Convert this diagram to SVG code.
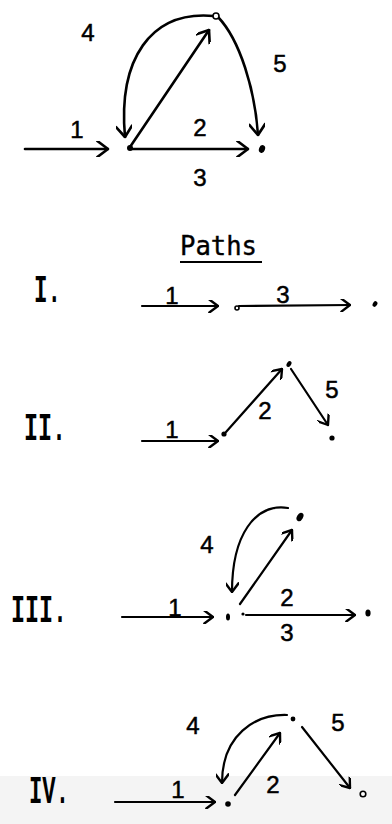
<svg xmlns="http://www.w3.org/2000/svg" width="392" height="824" viewBox="0 0 392 824">
<defs>
<marker id="ah" viewBox="0 0 12 12" refX="11" refY="6" markerWidth="16" markerHeight="16" markerUnits="userSpaceOnUse" orient="auto">
<path d="M3,0 L11,6 L3,12" fill="none" stroke="#000" stroke-width="2" stroke-linecap="round" stroke-linejoin="round"/>
</marker>
<marker id="ahs" viewBox="0 0 12 12" refX="11" refY="6" markerWidth="13" markerHeight="13" markerUnits="userSpaceOnUse" orient="auto">
<path d="M3,0 L11,6 L3,12" fill="none" stroke="#000" stroke-width="2.2" stroke-linecap="round" stroke-linejoin="round"/>
</marker>
</defs>
<style>
.e{fill:none;stroke:#000;stroke-width:2.6;stroke-linecap:round;marker-end:url(#ah)}
.s{fill:none;stroke:#000;stroke-width:2.2;stroke-linecap:round;marker-end:url(#ahs)}
.n{fill:#000}
.o{fill:#fff;stroke:#000;stroke-width:1.6}
.l{font-family:"Liberation Sans",Arial,sans-serif;font-size:24px;fill:#000;stroke:#000;stroke-width:0.5;text-anchor:middle}
.r{font-family:"Liberation Mono","Courier New",monospace;font-size:38px;font-weight:bold;fill:#000}
.t{font-family:"DejaVu Sans Mono","Liberation Mono",monospace;font-size:27px;fill:#000;stroke:#000;stroke-width:0.4}
</style>
<rect x="0" y="0" width="392" height="824" fill="#fff"/>
<rect x="0" y="776" width="392" height="48" fill="#f4f4f4"/>

<g id="connectors">
<path class="e" d="M25,149 L108,149"/>
<path class="e" d="M131,149 L248,149"/>
<path class="e" d="M130,147 L209,30"/>
<path class="e" d="M214,16 C150,10 118,60 125,137"/>
<path class="e" d="M218,17 C240,40 255,90 258,135"/>
<path class="s" d="M142,306 L218,306"/>
<path class="s" d="M239,306 L350,305"/>
<path class="s" d="M142,441 L218,441"/>
<path class="s" d="M226,432 L282,369"/>
<path class="s" d="M291,369 L328,425"/>
<path class="s" d="M288,508 C255,503 232,535 232,592"/>
<path class="s" d="M240,604 L292,530"/>
<path class="s" d="M122,617 L213,617"/>
<path class="s" d="M246,615 L355,615"/>
<path class="s" d="M115,802 L215,802"/>
<path class="s" d="M235,795 L280,733"/>
<path class="s" d="M287,715 C255,714 222,735 222,783"/>
<path class="s" d="M302,727 L350,788"/>
</g>

<g id="main-nodes">
<g id="m-a"><circle class="n" cx="130" cy="148" r="3"/></g>
<g id="m-b"><ellipse class="n" cx="262" cy="149" rx="3" ry="4" transform="rotate(20 262 149)"/></g>
<g id="m-c"><circle class="o" cx="216" cy="16" r="3"/></g>
</g>
<g id="main-labels">
<text class="l" x="77" y="138">1</text>
<text class="l" x="200" y="136">2</text>
<text class="l" x="200" y="186">3</text>
<text class="l" x="88" y="41">4</text>
<text class="l" x="280" y="72">5</text>
</g>

<g id="title">
<text class="t" x="180" y="255" textLength="77" lengthAdjust="spacingAndGlyphs">Paths</text>
<line x1="180" y1="262" x2="262" y2="262" stroke="#000" stroke-width="2"/>
</g>

<g id="path-I">
<text class="r" x="34" y="302" textLength="27" lengthAdjust="spacingAndGlyphs">I.</text>
<text class="l" x="172" y="304">1</text>
<text class="l" x="283" y="303">3</text>
<circle class="o" cx="237" cy="308" r="2"/>
<ellipse class="n" cx="375" cy="304" rx="2.2" ry="3" transform="rotate(30 375 304)"/>
</g>

<g id="path-II">
<text class="r" x="24" y="440" textLength="42" lengthAdjust="spacingAndGlyphs">II.</text>
<text class="l" x="172" y="438">1</text>
<text class="l" x="265" y="419">2</text>
<text class="l" x="332" y="398">5</text>
<circle class="n" cx="224" cy="434" r="2.6"/>
<ellipse class="n" cx="289" cy="364" rx="2.2" ry="3.2" transform="rotate(30 289 364)"/>
<circle class="n" cx="332" cy="438" r="2.6"/>
</g>

<g id="path-III">
<text class="r" x="11" y="622" textLength="56" lengthAdjust="spacingAndGlyphs">III.</text>
<text class="l" x="175" y="616">1</text>
<text class="l" x="287" y="606">2</text>
<text class="l" x="287" y="641">3</text>
<text class="l" x="207" y="553">4</text>
<ellipse class="n" cx="300" cy="517" rx="3" ry="4.5" transform="rotate(30 300 517)"/>
<ellipse class="n" cx="228" cy="617" rx="2" ry="3.5"/>
<circle class="n" cx="243" cy="614" r="1.6"/>
<ellipse class="n" cx="368" cy="613" rx="2.6" ry="3.6"/>
</g>

<g id="path-IV">
<text class="r" x="29" y="803" textLength="40" lengthAdjust="spacingAndGlyphs">IV.</text>
<text class="l" x="178" y="798">1</text>
<text class="l" x="273" y="793">2</text>
<text class="l" x="193" y="734">4</text>
<text class="l" x="338" y="731">5</text>
<circle class="n" cx="228" cy="804" r="2.8"/>
<circle class="n" cx="293" cy="719" r="2.4"/>
<circle class="o" cx="363" cy="794" r="2.8"/>
</g>
</svg>
